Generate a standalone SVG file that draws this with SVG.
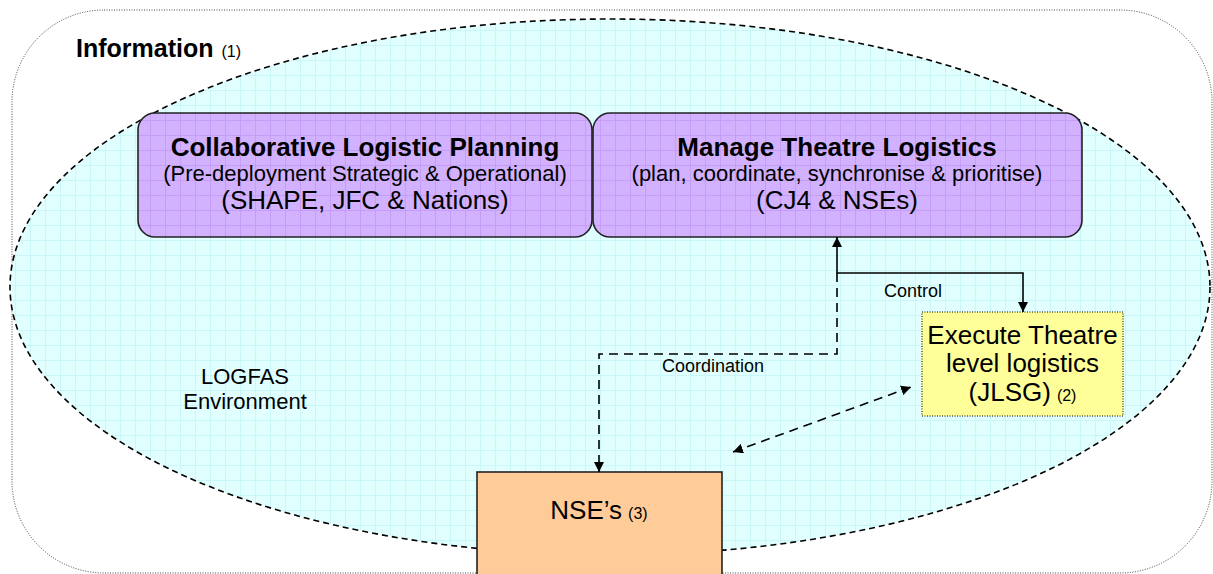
<svg xmlns="http://www.w3.org/2000/svg" width="1213" height="574" viewBox="0 0 1213 574">
<style>
text{font-family:"Liberation Sans",Arial,sans-serif;fill:#000}
.b{font-weight:bold;font-size:26px}
.m{font-size:22px}
.l{font-size:26px}
.s{font-size:16px}
.lab{font-size:18px}
.solid{fill:none;stroke:#000;stroke-width:1.6}
.dash{fill:none;stroke:#000;stroke-width:1.6;stroke-dasharray:9,6}
</style>
<defs>
<pattern id="gc" patternUnits="userSpaceOnUse" width="15" height="15">
<rect width="15" height="15" fill="#e2ffff"/>
<path d="M0 0.5H15M0.5 0V15" stroke="#c9f6f8" stroke-width="1"/>
</pattern>
<pattern id="gp" patternUnits="userSpaceOnUse" width="15" height="15">
<rect width="15" height="15" fill="#d2b2ff"/>
<path d="M0 0.5H15M0.5 0V15" stroke="#c59cf6" stroke-width="1"/>
</pattern>
<marker id="ah" viewBox="0 0 10 10" refX="10" refY="5" markerWidth="10" markerHeight="10" markerUnits="userSpaceOnUse" orient="auto-start-reverse">
<path d="M0 0L10 5L0 10z" fill="#000"/>
</marker>
</defs>
<rect width="1213" height="574" fill="#fff"/>
<g id="information">
<rect x="12" y="10" width="1200" height="563" rx="92" ry="92" fill="none" stroke="#444" stroke-width="1" stroke-dasharray="1,1.5"/>
<text x="76" y="57"><tspan class="b" style="font-size:25px">Information</tspan><tspan class="s" dx="8">(1)</tspan></text>
</g>
<g id="logfas">
<ellipse cx="610" cy="287" rx="600" ry="268" fill="url(#gc)" stroke="#000" stroke-width="1.6" stroke-dasharray="6,4"/>
<text x="245" y="384" class="m" text-anchor="middle">LOGFAS</text>
<text x="245" y="409" class="m" text-anchor="middle">Environment</text>
</g>
<g id="planning">
<rect x="138" y="113" width="454" height="124" rx="17" fill="url(#gp)" stroke="#222" stroke-width="1.6"/>
<text x="365" y="156" class="b" text-anchor="middle">Collaborative Logistic Planning</text>
<text x="365" y="181" class="m" text-anchor="middle">(Pre-deployment Strategic &amp; Operational)</text>
<text x="365" y="209" class="l" text-anchor="middle">(SHAPE, JFC &amp; Nations)</text>
</g>
<g id="manage">
<rect x="593" y="113" width="489" height="124" rx="17" fill="url(#gp)" stroke="#222" stroke-width="1.6"/>
<text x="837" y="156" class="b" text-anchor="middle">Manage Theatre Logistics</text>
<text x="837" y="181" class="m" text-anchor="middle">(plan, coordinate, synchronise &amp; prioritise)</text>
<text x="837" y="209" class="l" text-anchor="middle">(CJ4 &amp; NSEs)</text>
</g>
<g id="execute">
<rect x="922" y="312" width="201" height="104" fill="#ffff99" stroke="#000" stroke-width="1" stroke-dasharray="1,1.5"/>
<text x="1022.5" y="344" class="l" text-anchor="middle">Execute Theatre</text>
<text x="1022.5" y="372" class="l" text-anchor="middle">level logistics</text>
<text x="1022.5" y="401" text-anchor="middle"><tspan class="l">(JLSG)</tspan><tspan class="s" dx="6">(2)</tspan></text>
</g>
<g id="nse">
<rect x="477" y="472" width="245" height="110" fill="#ffcc99" stroke="#222" stroke-width="1.6"/>
<text x="599" y="519" text-anchor="middle"><tspan class="l">NSE’s</tspan><tspan class="s" dx="6">(3)</tspan></text>
</g>
<g id="connectors">
<polyline class="solid" points="837,237 837,273 1023,273 1023,312" marker-start="url(#ah)" marker-end="url(#ah)"/>
<polyline class="dash" points="837,273 837,354 599,354 599,472" marker-end="url(#ah)"/>
<line class="dash" x1="733" y1="452" x2="911" y2="387" marker-start="url(#ah)" marker-end="url(#ah)"/>
<text x="913" y="297" class="lab" text-anchor="middle">Control</text>
<text x="713" y="372" class="lab" text-anchor="middle">Coordination</text>
</g>
</svg>
